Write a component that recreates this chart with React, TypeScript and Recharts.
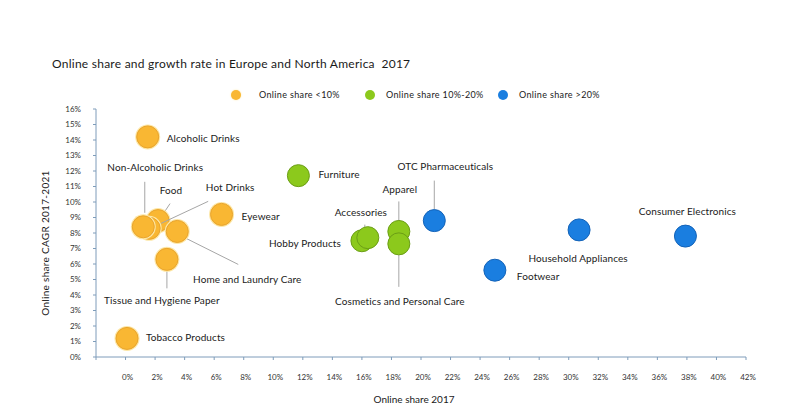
import { ScatterChart, Scatter, XAxis, YAxis, Label } from 'recharts';

// Online share <10%
const lowNames = ['Alcoholic Drinks', 'Food', 'Hot Drinks', 'Non-Alcoholic Drinks', 'Eyewear', 'Home and Laundry Care', 'Tissue and Hygiene Paper', 'Tobacco Products'];
const lowShare = [1.5, 2.2, 1.6, 1.2, 6.5, 3.5, 2.8, 0.1];
const lowCagr = [14.2, 8.8, 8.3, 8.4, 9.2, 8.1, 6.3, 1.2];

// Online share 10%-20%
const midNames = ['Furniture', 'Hobby Products', 'Accessories', 'Apparel', 'Cosmetics and Personal Care'];
const midShare = [11.7, 16.0, 16.4, 18.5, 18.5];
const midCagr = [11.7, 7.5, 7.7, 8.1, 7.3];

// Online share >20%
const highNames = ['OTC Pharmaceuticals', 'Footwear', 'Household Appliances', 'Consumer Electronics'];
const highShare = [20.9, 25.0, 30.7, 37.9];
const highCagr = [8.8, 5.6, 8.2, 7.8];

const xTicks = [-2, 0, 2, 4, 6, 8, 10, 12, 14, 16, 18, 20, 22, 24, 26, 28, 30, 32, 34, 36, 38, 40, 42];
const yTicks = [0, 1, 2, 3, 4, 5, 6, 7, 8, 9, 10, 11, 12, 13, 14, 15, 16];

const legendItems = ['Online share <10%', 'Online share 10%-20%', 'Online share >20%'];

const build = (names: string[], share: number[], cagr: number[]) =>
  names.map((name, i) => ({ name, share: share[i], cagr: cagr[i] }));

const lowData = build(lowNames, lowShare, lowCagr);
const midData = build(midNames, midShare, midCagr);
const highData = build(highNames, highShare, highCagr);

// label placement relative to bubble centre (px), with optional leader line
type Place = { dx: number; dy: number; anchor: 'start' | 'middle' | 'end'; line?: number[] };
const placement: Record<string, Place> = {
  'Alcoholic Drinks': { dx: 19, dy: 1, anchor: 'start' },
  'Furniture': { dx: 20, dy: -2, anchor: 'start' },
  'Eyewear': { dx: 20, dy: 2, anchor: 'start' },
  'Tobacco Products': { dx: 19, dy: -1, anchor: 'start' },
  'Footwear': { dx: 22, dy: 6, anchor: 'start' },
  'Hobby Products': { dx: -21, dy: 2, anchor: 'end' },
  'Household Appliances': { dx: -1, dy: 28, anchor: 'middle' },
  'Consumer Electronics': { dx: 2, dy: -25, anchor: 'middle' },
  'Non-Alcoholic Drinks': { dx: 12, dy: -60, anchor: 'middle', line: [1.5, -45, 1.5, -14] },
  'Food': { dx: 13, dy: -31, anchor: 'middle', line: [12, -17, 6, -8] },
  'Hot Drinks': { dx: 81, dy: -41, anchor: 'middle', line: [59, -27, 12, -5] },
  'Home and Laundry Care': { dx: 70, dy: 48, anchor: 'middle', line: [9, 7, 61, 33] },
  'Tissue and Hygiene Paper': { dx: -5, dy: 41, anchor: 'middle', line: [0, 10, 0, 29] },
  'Accessories': { dx: -7, dy: -26, anchor: 'middle', line: [-3, -13, -3, -9] },
  'Apparel': { dx: 1, dy: -42, anchor: 'middle', line: [0, -30, 0, -11] },
  'Cosmetics and Personal Care': { dx: 1, dy: 57, anchor: 'middle', line: [0, 11, 0, 43] },
  'OTC Pharmaceuticals': { dx: 11, dy: -55, anchor: 'middle', line: [0, -40, 0, -11] },
};

const colors = [
  { fill: '#F9B733', stroke: '#E9A42C', halo: '#FDE7A6' },
  { fill: '#8CC91C', stroke: '#6B9E16', halo: '' },
  { fill: '#1A7EE0', stroke: '#1463B8', halo: '' },
];

const R = 11;
const font = 'Lato, "Open Sans", sans-serif';

const bubble = (c: { fill: string; stroke: string; halo: string }) => (props: any) => {
  const { cx, cy, payload } = props;
  const p = placement[payload.name];
  return (
    <g>
      {p && p.line && (
        <line x1={cx + p.line[0]} y1={cy + p.line[1]} x2={cx + p.line[2]} y2={cy + p.line[3]} stroke="#A6A6A6" strokeWidth={1} />
      )}
      {c.halo && <circle cx={cx} cy={cy} r={R + 1.5} fill={c.halo} />}
      <circle cx={cx} cy={cy} r={R} fill={c.fill} stroke={c.stroke} strokeWidth={1} />
      {p && (
        <text x={cx + p.dx} y={cy + p.dy} textAnchor={p.anchor} dominantBaseline="central" fontSize={10} letterSpacing={0.1} fill="#1a1a1a" fontFamily={font}>
          {payload.name}
        </text>
      )}
    </g>
  );
};

const legendX = [236, 370, 503];

export default function App() {
  return (
    <div style={{ position: 'absolute', left: 0, top: 0, width: 800, height: 409, background: '#fff', fontFamily: font }}>
      <div style={{ position: 'absolute', left: 52, top: 56, fontSize: 12, letterSpacing: 0.25, color: '#1a1a1a', whiteSpace: 'nowrap' }}>
        Online share and growth rate in Europe and North America&nbsp; 2017
      </div>
      {legendItems.map((t, i) => (
        <div key={t} style={{ position: 'absolute', left: legendX[i] - 5, top: 89, display: 'flex', alignItems: 'center', fontSize: 9, letterSpacing: 0.35, color: '#1a1a1a', whiteSpace: 'nowrap' }}>
          <span style={{ width: 10, height: 10, borderRadius: 5, background: colors[i].fill, display: 'inline-block', boxShadow: i === 0 ? '0 0 2px #FDE7A6' : 'none' }} />
          <span style={{ marginLeft: i === 0 ? 18 : 11 }}>{t}</span>
        </div>
      ))}
      <ScatterChart width={800} height={409} margin={{ top: 109, right: 54, bottom: 22, left: 66 }} style={{ position: 'absolute', left: 0, top: 0 }}>
        <XAxis
          type="number"
          dataKey="share"
          domain={[-2, 42]}
          ticks={xTicks}
          interval={0}
          tickFormatter={(v: number) => (v < 0 ? '' : `${v}%`)}
          axisLine={{ stroke: '#7E9CBA' }}
          tickLine={{ stroke: '#7E9CBA' }}
          tickSize={3}
          tickMargin={14}
          height={30}
          tick={{ fontSize: 8, fill: '#333', fontFamily: font, dx: 2 }}
        >
          <Label value="Online share 2017" position="insideBottom" offset={-16} style={{ fontSize: 10, fill: '#1a1a1a', fontFamily: font }} dx={-7} />
        </XAxis>
        <YAxis
          type="number"
          dataKey="cagr"
          domain={[0, 16]}
          ticks={yTicks}
          interval={0}
          tickFormatter={(v: number) => `${v}%`}
          axisLine={{ stroke: '#7E9CBA' }}
          tickLine={{ stroke: '#7E9CBA' }}
          tickSize={3}
          tickMargin={12}
          width={30}
          tick={{ fontSize: 8, fill: '#333', fontFamily: font }}
        >
          <Label value="Online share CAGR 2017-2021" angle={-90} position="insideLeft" offset={-21} dy={10} style={{ fontSize: 10, letterSpacing: 0.3, fill: '#1a1a1a', fontFamily: font, textAnchor: 'middle' }} />
        </YAxis>
        <Scatter data={lowData} isAnimationActive={false} shape={bubble(colors[0])} />
        <Scatter data={midData} isAnimationActive={false} shape={bubble(colors[1])} />
        <Scatter data={highData} isAnimationActive={false} shape={bubble(colors[2])} />
      </ScatterChart>
    </div>
  );
}
